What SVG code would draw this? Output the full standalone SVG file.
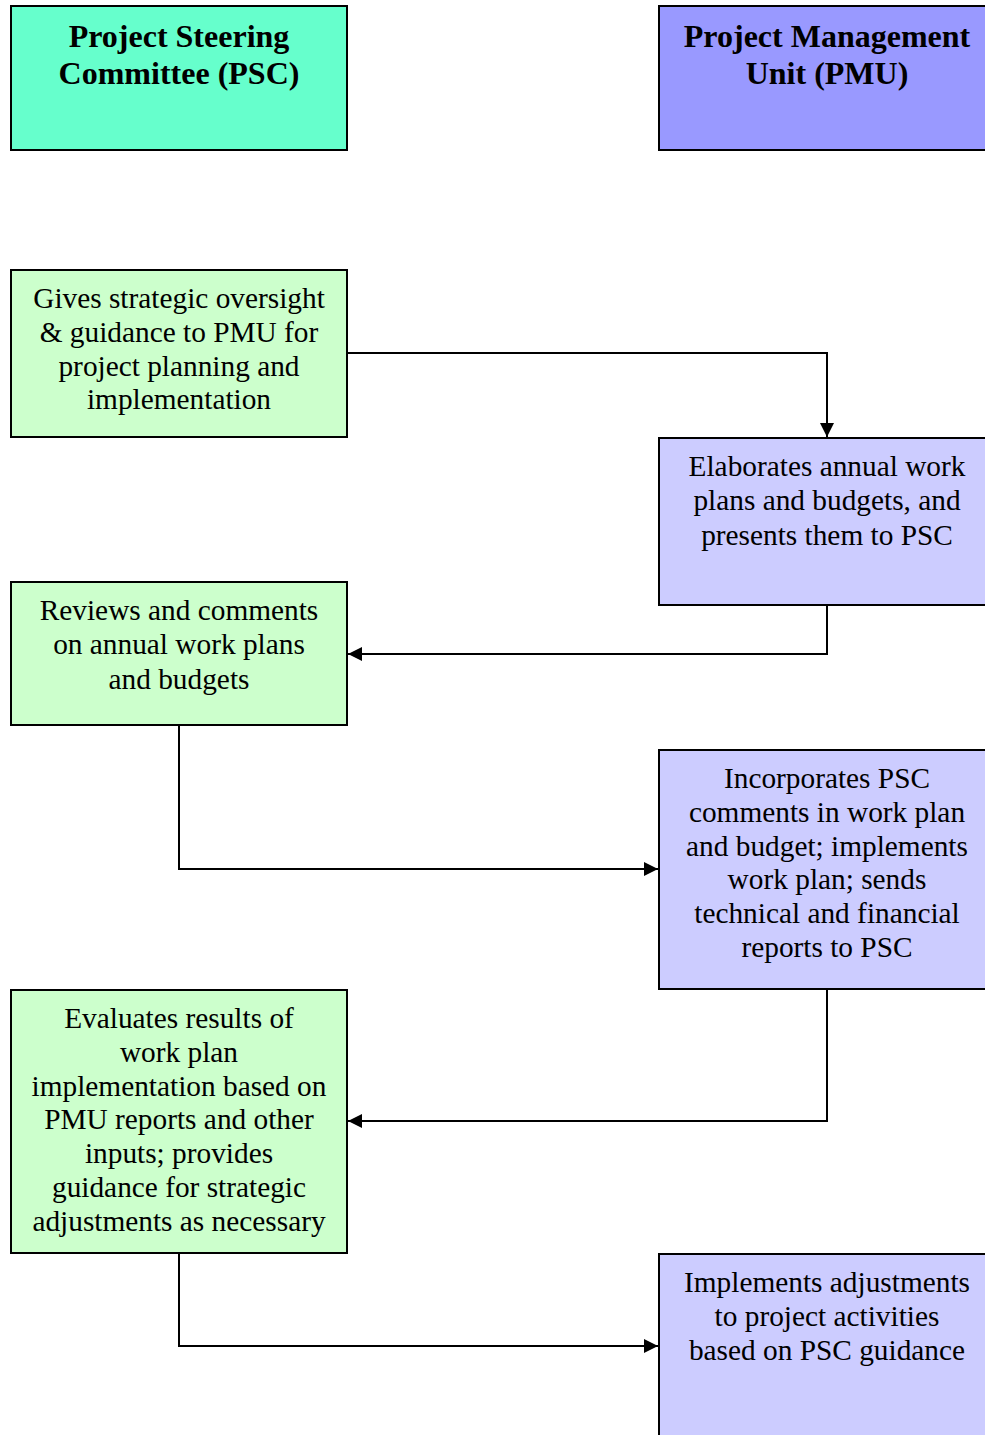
<svg xmlns="http://www.w3.org/2000/svg" width="985" height="1435" viewBox="0 0 985 1435">
<style>
.box{stroke:#000;stroke-width:2}
.psc{fill:#66FFCC}.pmu{fill:#9999FF}.lg{fill:#CCFFCC}.lp{fill:#CCCCFF}
.t text{font-size:29.33px;fill:#000;text-anchor:middle}
.t text.h{font-weight:bold;font-size:32px}
.c{fill:none;stroke:#000;stroke-width:2}
</style>
<defs>
<marker id="ah" viewBox="0 0 14 14" refX="14" refY="7" markerWidth="14" markerHeight="14" markerUnits="userSpaceOnUse" orient="auto">
<path d="M0,0 L14,7 L0,14 Z" fill="#000"/>
</marker>
</defs>
<rect width="985" height="1435" fill="#fff"/>
<g class="t" font-family="'Liberation Serif', 'Times New Roman', Times, serif">
<g id="psc">
<rect class="box psc" x="11" y="6" width="336" height="144"/>
<text class="h" x="179" y="47">Project Steering</text>
<text class="h" x="179" y="84">Committee (PSC)</text>
</g>
<g id="pmu">
<rect class="box pmu" x="659" y="6" width="336" height="144"/>
<text class="h" x="827" y="47">Project Management</text>
<text class="h" x="827" y="84">Unit (PMU)</text>
</g>
<g id="n1">
<rect class="box lg" x="11" y="270" width="336" height="167"/>
<text x="179" y="308">Gives strategic oversight</text>
<text x="179" y="342">&amp; guidance to PMU for</text>
<text x="179" y="376">project planning and</text>
<text x="179" y="409">implementation</text>
</g>
<g id="n2">
<rect class="box lp" x="659" y="438" width="336" height="167"/>
<text x="827" y="476">Elaborates annual work</text>
<text x="827" y="510">plans and budgets, and</text>
<text x="827" y="545">presents them to PSC</text>
</g>
<g id="n3">
<rect class="box lg" x="11" y="582" width="336" height="143"/>
<text x="179" y="620">Reviews and comments</text>
<text x="179" y="654">on annual work plans</text>
<text x="179" y="689">and budgets</text>
</g>
<g id="n4">
<rect class="box lp" x="659" y="750" width="336" height="239"/>
<text x="827" y="788">Incorporates PSC</text>
<text x="827" y="822">comments in work plan</text>
<text x="827" y="856">and budget; implements</text>
<text x="827" y="889">work plan; sends</text>
<text x="827" y="923">technical and financial</text>
<text x="827" y="957">reports to PSC</text>
</g>
<g id="n5">
<rect class="box lg" x="11" y="990" width="336" height="263"/>
<text x="179" y="1028">Evaluates results of</text>
<text x="179" y="1062">work plan</text>
<text x="179" y="1096">implementation based on</text>
<text x="179" y="1129">PMU reports and other</text>
<text x="179" y="1163">inputs; provides</text>
<text x="179" y="1197">guidance for strategic</text>
<text x="179" y="1231">adjustments as necessary</text>
</g>
<g id="n6">
<rect class="box lp" x="659" y="1254" width="336" height="200"/>
<text x="827" y="1292">Implements adjustments</text>
<text x="827" y="1326">to project activities</text>
<text x="827" y="1360">based on PSC guidance</text>
</g>
</g>
<g id="connectors">
<polyline class="c" points="347,353 827,353 827,437" marker-end="url(#ah)"/>
<polyline class="c" points="827,605 827,654 348,654" marker-end="url(#ah)"/>
<polyline class="c" points="179,725 179,869 658,869" marker-end="url(#ah)"/>
<polyline class="c" points="827,989 827,1121 348,1121" marker-end="url(#ah)"/>
<polyline class="c" points="179,1253 179,1346 658,1346" marker-end="url(#ah)"/>
</g>
</svg>
